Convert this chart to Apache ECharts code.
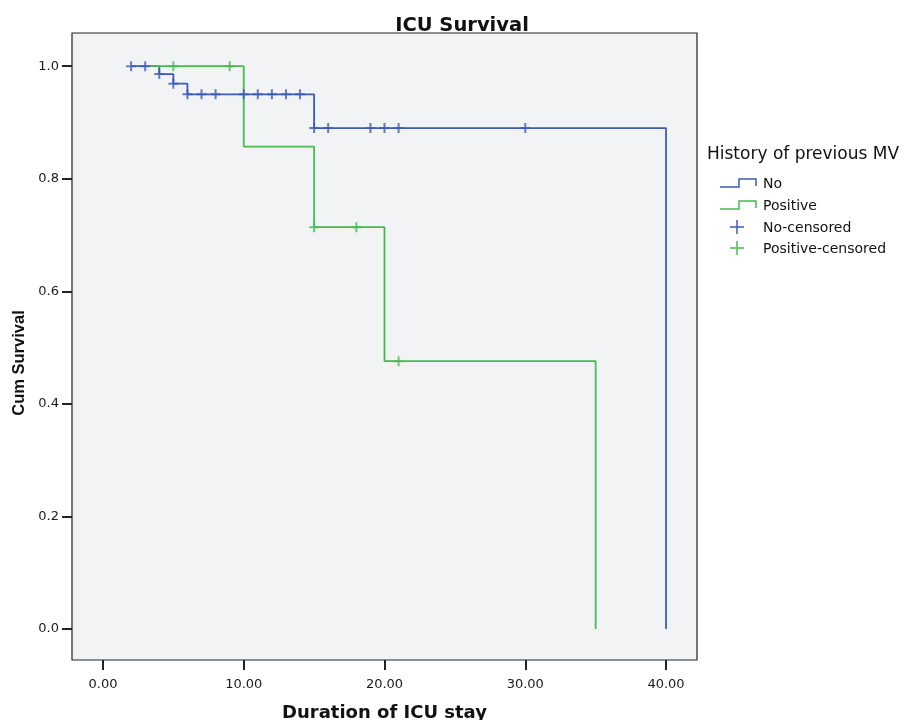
<!DOCTYPE html>
<html>
<head>
<meta charset="utf-8">
<script src="https://cdn.jsdelivr.net/npm/echarts@6/dist/echarts.min.js"></script>
<style>html,body{margin:0;padding:0;background:#fff;}#c{width:911px;height:720px;}</style>
</head>
<body>
<div id="c"></div>
<script>
// Step curve points (time, cumulative survival)
const noTimes = [2, 4, 5, 6, 15, 40];
const noSurv = [1.0, 0.986, 0.969, 0.950, 0.890, 0.0];
const posTimes = [3, 10, 15, 20, 35];
const posSurv = [1.0, 0.857, 0.714, 0.476, 0.0];
// Censored observations
const noCensTimes = [2, 3, 4, 5, 6, 7, 8, 10, 11, 12, 13, 14, 15, 16, 19, 20, 21, 30];
const noCensSurv = [1.0, 1.0, 0.986, 0.969, 0.950, 0.950, 0.950, 0.950, 0.950, 0.950, 0.950, 0.950, 0.890, 0.890, 0.890, 0.890, 0.890, 0.890];
const posCensTimes = [5, 9, 15, 18, 21];
const posCensSurv = [1.0, 1.0, 0.714, 0.714, 0.476];
// Ticks
const xTicks = [0, 10, 20, 30, 40];
const yTicks = [0, 0.2, 0.4, 0.6, 0.8, 1.0];
const legendLabels = ['No', 'Positive', 'No-censored', 'Positive-censored'];

const BLUE = '#3d5cb3';
const GREEN = '#48ba52';
const zip = (a, b) => a.map((v, i) => [v, b[i]]);
const plus = 'path://M0,5L10,5M5,0L5,10';

const chart = echarts.init(document.getElementById('c'), null, {renderer: 'canvas'});

function stepIcon(x, y, color) {
  return {
    type: 'polyline',
    shape: {points: [[x, y + 4], [x + 19, y + 4], [x + 19, y - 4], [x + 36, y - 4], [x + 36, y + 3]]},
    style: {stroke: color, lineWidth: 1.5, fill: null}
  };
}
function plusIcon(x, y, color) {
  return {
    type: 'group',
    children: [
      {type: 'line', shape: {x1: x - 7, y1: y, x2: x + 7, y2: y}, style: {stroke: color, lineWidth: 1.5}},
      {type: 'line', shape: {x1: x, y1: y - 7, x2: x, y2: y + 7}, style: {stroke: color, lineWidth: 1.5}}
    ]
  };
}
const legFont = '14px "DejaVu Sans"';
function legText(x, y, t) {
  return {type: 'text', style: {x: x, y: y, text: t, font: legFont, fill: '#111', textVerticalAlign: 'middle'}};
}

chart.setOption({
  animation: false,
  backgroundColor: '#ffffff',
  title: {
    text: 'ICU Survival',
    left: 457,
    top: 11,
    textAlign: 'center',
    textStyle: {fontFamily: 'DejaVu Sans', fontWeight: 'bold', fontSize: 19.5, color: '#111'}
  },
  grid: {
    left: 72, top: 33, right: 214, bottom: 60,
    outerBoundsMode: 'none', containLabel: false,
    show: true, backgroundColor: '#f2f3f5', borderColor: '#222', borderWidth: 1.2
  },
  xAxis: {
    type: 'value', min: -2.2, max: 42.2,
    name: 'Duration of ICU stay', nameLocation: 'middle', nameGap: 44,
    nameTextStyle: {fontFamily: 'DejaVu Sans', fontWeight: 'bold', fontSize: 18, color: '#111'},
    axisLine: {show: false, onZero: false},
    splitLine: {show: false},
    axisTick: {show: true, inside: false, customValues: xTicks, length: 10, lineStyle: {color: '#222', width: 2}},
    axisLabel: {customValues: xTicks, margin: 18, fontFamily: 'DejaVu Sans', fontSize: 13, color: '#1a1a1a',
      formatter: v => v.toFixed(2)}
  },
  yAxis: {
    type: 'value', min: -0.055, max: 1.059,
    axisLine: {show: false, onZero: false},
    splitLine: {show: false},
    axisTick: {show: true, inside: false, customValues: yTicks, length: 10, lineStyle: {color: '#222', width: 2}},
    axisLabel: {customValues: yTicks, margin: 13, fontFamily: 'DejaVu Sans', fontSize: 13, color: '#1a1a1a',
      formatter: v => v.toFixed(1)}
  },
  series: [
    {name: 'No', type: 'line', step: 'end', data: zip(noTimes, noSurv), showSymbol: false,
      lineStyle: {color: BLUE, width: 1.8}, z: 2},
    {name: 'Positive', type: 'line', step: 'end', data: zip(posTimes, posSurv), showSymbol: false,
      lineStyle: {color: GREEN, width: 1.8}, z: 3},
    {name: 'No-censored', type: 'scatter', data: zip(noCensTimes, noCensSurv), symbol: plus, symbolSize: [10, 10],
      itemStyle: {color: BLUE, borderColor: BLUE, borderWidth: 2}, z: 4},
    {name: 'Positive-censored', type: 'scatter', data: zip(posCensTimes, posCensSurv), symbol: plus, symbolSize: [10, 10],
      itemStyle: {color: GREEN, borderColor: GREEN, borderWidth: 2}, z: 5}
  ],
  graphic: [
    {type: 'text', x: 19, y: 363, rotation: Math.PI / 2,
      style: {text: 'Cum Survival', font: 'bold 16.5px "Liberation Sans", Arial', fill: '#111',
        textAlign: 'center', textVerticalAlign: 'middle'}},
    {type: 'text', style: {x: 707, y: 155, text: 'History of previous MV', font: '17px "DejaVu Sans"', fill: '#111', textVerticalAlign: 'middle'}},
    stepIcon(720, 183, BLUE), legText(763, 184, legendLabels[0]),
    stepIcon(720, 205, GREEN), legText(763, 206, legendLabels[1]),
    plusIcon(737, 227, BLUE), legText(763, 228, legendLabels[2]),
    plusIcon(737, 248, GREEN), legText(763, 249, legendLabels[3])
  ]
});
</script>
</body>
</html>
